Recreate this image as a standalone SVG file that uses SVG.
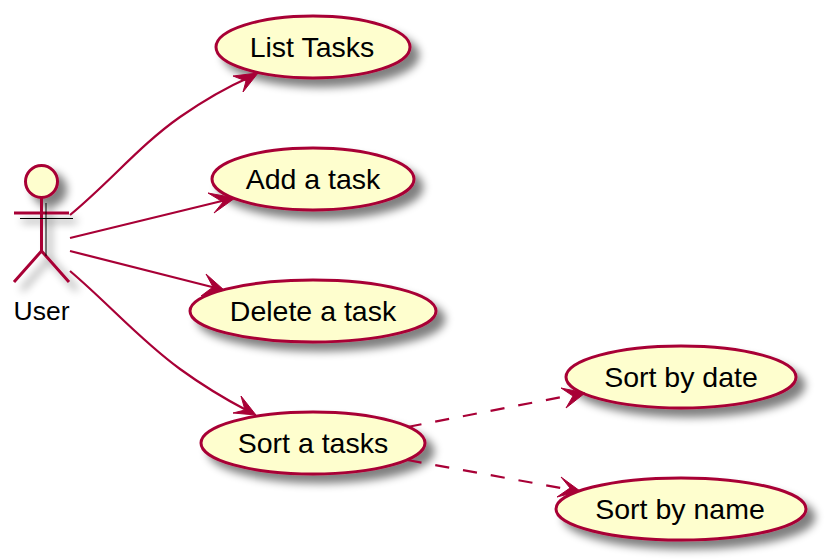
<svg xmlns="http://www.w3.org/2000/svg" width="825" height="559" viewBox="0 0 825 559">
<style>
.uc{fill:#FEFECE;stroke:#A80036;stroke-width:3}
.ln{fill:none;stroke:#A80036;stroke-width:2.2}
.act{fill:none;stroke:#A80036;stroke-width:3}
.ah{fill:#A80036;stroke:#A80036;stroke-width:1}
.dash{stroke-dasharray:14.200 14}
text{font-family:"Liberation Sans",Arial,sans-serif;font-size:28.500px;fill:#000;text-anchor:middle}
</style>
<defs>
<filter id="sh" x="-20%" y="-30%" width="150%" height="170%">
<feGaussianBlur in="SourceAlpha" stdDeviation="4"/>
<feOffset dx="8" dy="8"/>
<feComponentTransfer><feFuncA type="linear" slope="0.5"/></feComponentTransfer>
<feMerge><feMergeNode/><feMergeNode in="SourceGraphic"/></feMerge>
</filter>
</defs>
<g id="actor-user">
<g filter="url(#sh)">
<circle class="uc" cx="41.500" cy="181.500" r="16"/>
<path class="act" d="M41.500,198 V251 M14,213 H69 M14,282 L41.500,251 L69,282"/>
</g>
<path d="M46,203 V256 M20,218.500 H73" fill="none" stroke="#000" stroke-width="1"/>
<text x="41.500" y="320" style="font-size:26.500px">User</text>
</g>
<g id="uc-list"><ellipse class="uc" cx="313" cy="47" rx="97" ry="31" filter="url(#sh)"/><text x="312" y="57">List Tasks</text></g>
<g id="uc-add"><ellipse class="uc" cx="313" cy="179" rx="101" ry="31" filter="url(#sh)"/><text x="313" y="189">Add a task</text></g>
<g id="uc-delete"><ellipse class="uc" cx="313" cy="311" rx="123" ry="31" filter="url(#sh)"/><text x="313" y="321">Delete a task</text></g>
<g id="uc-sort"><ellipse class="uc" cx="313" cy="443" rx="112" ry="31" filter="url(#sh)"/><text x="313" y="453">Sort a tasks</text></g>
<g id="uc-date"><ellipse class="uc" cx="681" cy="377" rx="115" ry="31" filter="url(#sh)"/><text x="681" y="387">Sort by date</text></g>
<g id="uc-name"><ellipse class="uc" cx="681" cy="509" rx="125" ry="31" filter="url(#sh)"/><text x="680" y="519">Sort by name</text></g>
<g id="connectors">
<path class="ln" d="M70,215 C110,182 140,145 180,117 C203,101 225,88 250,77"/>
<polygon class="ah" points="258,73 233,76 246,81 243,92"/>
<path class="ln" d="M70,238 L226,200"/>
<polygon class="ah" points="235,198 208,193 223,202 214,213"/>
<path class="ln" d="M70,251 L216,288"/>
<polygon class="ah" points="224,290 206,274 213,287 201,296"/>
<path class="ln" d="M70,271 C110,305 140,340 180,369 C202,385 225,399 248,411"/>
<polygon class="ah" points="256,415 241,396 245,410 233,413"/>
<path class="ln dash" d="M407.500,427 L577,394"/>
<polygon class="ah" points="585,393 561,388 573,396 566,408"/>
<path class="ln dash" d="M407.500,460 L572,490"/>
<polygon class="ah" points="580,491 561,477 570,488 557,497"/>
</g>
</svg>
